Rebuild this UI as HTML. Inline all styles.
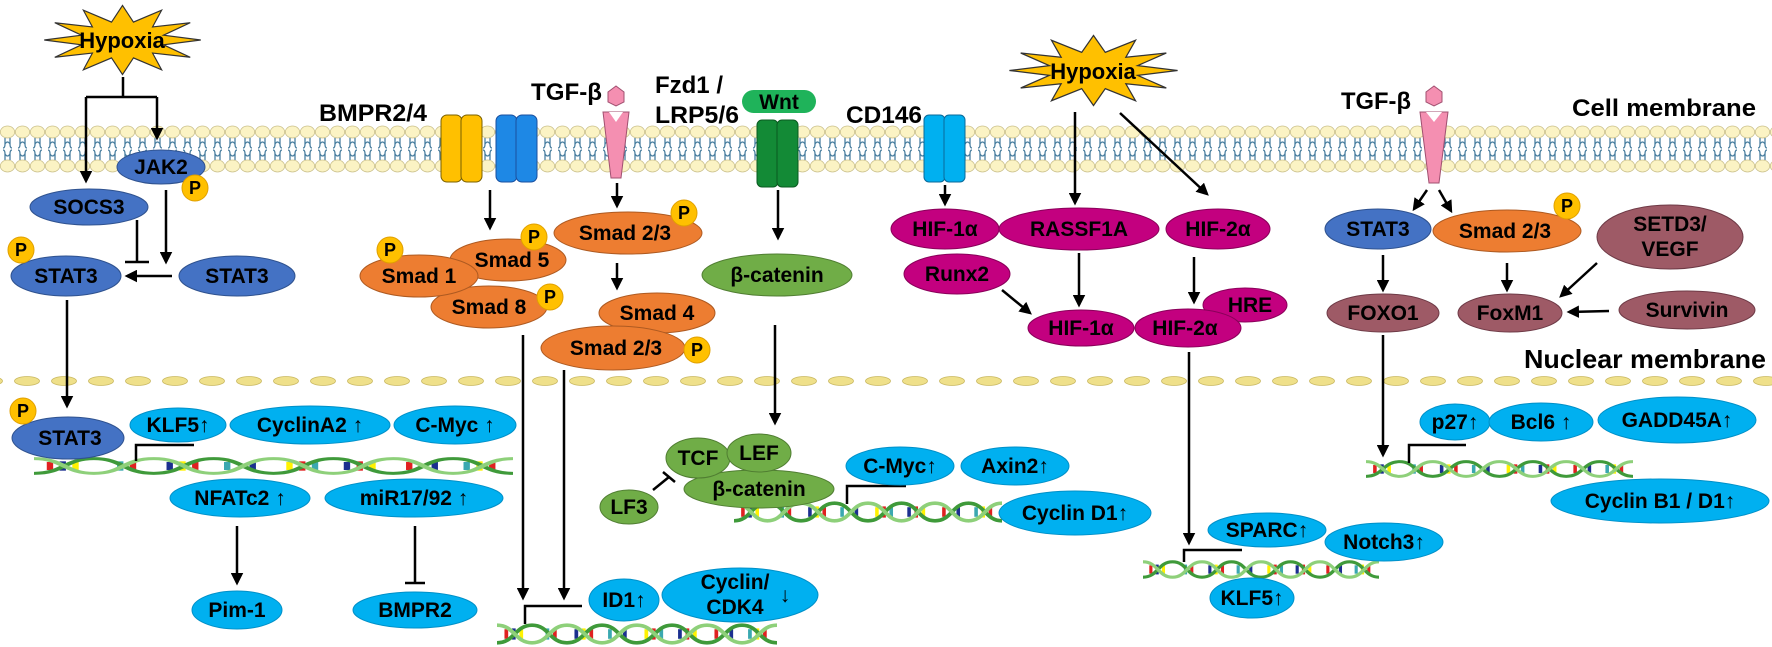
<!DOCTYPE html>
<html><head><meta charset="utf-8"><style>
html,body{margin:0;padding:0;background:#fff;}
svg{display:block;}
text{font-family:"Liberation Sans","DejaVu Sans",sans-serif;font-weight:bold;fill:#000;}
</style></head><body>
<svg width="1772" height="647" viewBox="0 0 1772 647" xmlns="http://www.w3.org/2000/svg">
<defs>
<marker id="ar" viewBox="0 0 10 10" refX="8" refY="5" markerWidth="5" markerHeight="5" orient="auto"><path d="M0,0 L10,5 L0,10 z" fill="#000"/></marker>
<pattern id="mem" x="0" y="125" width="15" height="48" patternUnits="userSpaceOnUse">
<path d="M5,13 v6 q0,4 -2,4 M10,13 v6 q0,4 2,4 M5,19 q2.5,-4 5,0 M5,35 v-6 q0,-4 -2,-4 M10,35 v-6 q0,-4 2,-4 M5,29 q2.5,4 5,0" stroke="#4a7fa0" stroke-width="1.3" fill="none"/>
<ellipse cx="7.5" cy="7" rx="7.2" ry="6" fill="#fbf3c4" stroke="#c9bf8a" stroke-width="0.8"/>
<ellipse cx="7.5" cy="41" rx="7.2" ry="6" fill="#fbf3c4" stroke="#c9bf8a" stroke-width="0.8"/>
</pattern>
<pattern id="nuc" x="14" y="370" width="37" height="22" patternUnits="userSpaceOnUse">
<ellipse cx="13" cy="11" rx="12.5" ry="4.5" fill="#efe08a" stroke="#c9b860" stroke-width="0.8"/>
</pattern>
<symbol id="star" viewBox="-72 -30 144 60" preserveAspectRatio="none" overflow="visible">
<polygon points="70,0 36.7,3.9 60.6,14 26.9,10.6 35,24.2 9.8,14.5 0,28 -9.8,14.5 -35,24.2 -26.9,10.6 -60.6,14 -36.7,3.9 -70,0 -36.7,-3.9 -60.6,-14 -26.9,-10.6 -35,-24.2 -9.8,-14.5 0,-28 9.8,-14.5 35,-24.2 26.9,-10.6 60.6,-14 36.7,-3.9" fill="#ffc000" stroke="#333" stroke-width="1"/>
</symbol>
<symbol id="dna" viewBox="0 0 300 30" preserveAspectRatio="none">
<g>
<rect x="8" y="9" width="4" height="12" fill="#e02020"/><rect x="16" y="8" width="4" height="14" fill="#1b2f8f"/><rect x="24" y="9" width="4" height="12" fill="#fff200"/><rect x="44" y="9" width="4" height="12" fill="#fff"/><rect x="52" y="8" width="4" height="14" fill="#3aa8b0"/><rect x="60" y="9" width="4" height="12" fill="#e02020"/>
<rect x="83" y="9" width="4" height="12" fill="#1b2f8f"/><rect x="91" y="8" width="4" height="14" fill="#fff200"/><rect x="99" y="9" width="4" height="12" fill="#e02020"/><rect x="119" y="9" width="4" height="12" fill="#3aa8b0"/><rect x="127" y="8" width="4" height="14" fill="#fff"/><rect x="135" y="9" width="4" height="12" fill="#1b2f8f"/>
<rect x="158" y="9" width="4" height="12" fill="#fff200"/><rect x="166" y="8" width="4" height="14" fill="#e02020"/><rect x="174" y="9" width="4" height="12" fill="#3aa8b0"/><rect x="194" y="9" width="4" height="12" fill="#1b2f8f"/><rect x="202" y="8" width="4" height="14" fill="#e02020"/><rect x="210" y="9" width="4" height="12" fill="#fff200"/>
<rect x="233" y="9" width="4" height="12" fill="#e02020"/><rect x="241" y="8" width="4" height="14" fill="#fff"/><rect x="249" y="9" width="4" height="12" fill="#1b2f8f"/><rect x="269" y="9" width="4" height="12" fill="#3aa8b0"/><rect x="277" y="8" width="4" height="14" fill="#fff200"/><rect x="285" y="9" width="4" height="12" fill="#e02020"/>
</g>
<path d="M0,26 C19,26 19,4 37.5,4 S56,26 75,26 S94,4 112.5,4 S131,26 150,26 S169,4 187.5,4 S206,26 225,26 S244,4 262.5,4 S281,26 300,26" fill="none" stroke="#3f9a3a" stroke-width="4.5"/>
<path d="M0,4 C19,4 19,26 37.5,26 S56,4 75,4 S94,26 112.5,26 S131,4 150,4 S169,26 187.5,26 S206,4 225,4 S244,26 262.5,26 S281,4 300,4" fill="none" stroke="#8ed07a" stroke-width="4.5"/>
</symbol>
</defs>

<!-- membranes -->
<rect x="0" y="125" width="1772" height="48" fill="url(#mem)"/>
<rect x="0" y="370" width="1772" height="22" fill="url(#nuc)"/>
<text x="1572" y="116" font-size="24" textLength="184" lengthAdjust="spacingAndGlyphs">Cell membrane</text>
<text x="1524" y="368" font-size="26" textLength="242" lengthAdjust="spacingAndGlyphs">Nuclear membrane</text>

<!-- receptors -->
<g stroke="#7a6000" stroke-width="1"><rect x="441" y="115" width="21" height="67" rx="6" fill="#ffc000"/><rect x="461" y="115" width="21" height="67" rx="6" fill="#ffc000"/></g>
<g stroke="#1a4f9f" stroke-width="1"><rect x="496" y="115" width="21" height="67" rx="6" fill="#1e88e5"/><rect x="516" y="115" width="21" height="67" rx="6" fill="#1e88e5"/></g>
<g stroke="#0a5a20" stroke-width="1"><rect x="757" y="120" width="21" height="67" rx="5" fill="#138a36"/><rect x="777" y="120" width="21" height="67" rx="5" fill="#138a36"/></g>
<g stroke="#0a6a9a" stroke-width="1"><rect x="924" y="115" width="21" height="67" rx="5" fill="#00b0f0"/><rect x="944" y="115" width="21" height="67" rx="5" fill="#00b0f0"/></g>
<g fill="#f48fb1" stroke="#a05070" stroke-width="1">
<polygon points="603,112 629,112 621,178 611,178"/>
<polygon points="608,92 616,86 624,92 624,102 616,106 608,102"/>
<polygon points="1420,112 1448,112 1439,183 1429,183"/>
<polygon points="1426,92 1434,86 1442,92 1442,102 1434,106 1426,102"/>
</g>
<polygon points="609,112 623,112 616,122" fill="#fff"/>
<polygon points="1426,112 1442,112 1434,122" fill="#fff"/>
<rect x="742" y="90" width="74" height="23" rx="11.5" fill="#1fb35a"/>
<text x="779" y="109" font-size="21" text-anchor="middle">Wnt</text>

<!-- labels -->
<g font-size="24">
<text x="319" y="121" textLength="108" lengthAdjust="spacingAndGlyphs">BMPR2/4</text>
<text x="531" y="100" textLength="71" lengthAdjust="spacingAndGlyphs">TGF-β</text>
<text x="655" y="93" textLength="68" lengthAdjust="spacingAndGlyphs">Fzd1 /</text>
<text x="655" y="123" textLength="84" lengthAdjust="spacingAndGlyphs">LRP5/6</text>
<text x="846" y="123" textLength="76" lengthAdjust="spacingAndGlyphs">CD146</text>
<text x="1341" y="109" textLength="70" lengthAdjust="spacingAndGlyphs">TGF-β</text>
</g>

<!-- stars -->
<use href="#star" x="42" y="3" width="161" height="74"/>
<text x="122" y="48" font-size="22" text-anchor="middle">Hypoxia</text>
<use href="#star" x="1007" y="33" width="173" height="75"/>
<text x="1093" y="79" font-size="22" text-anchor="middle">Hypoxia</text>

<!-- DNA -->
<use href="#dna" x="34" y="456" width="479" height="20"/>
<use href="#dna" x="497" y="622" width="280" height="24"/>
<use href="#dna" x="734" y="500" width="268" height="24"/>
<use href="#dna" x="1143" y="559" width="236" height="21"/>
<use href="#dna" x="1366" y="459" width="267" height="20"/>

<!-- connectors -->
<g stroke="#000" stroke-width="2.5" fill="none">
<path d="M123,77 V97 M86,97 H157"/>
<path d="M86,97 V181" marker-end="url(#ar)"/>
<path d="M157,97 V138" marker-end="url(#ar)"/>
<path d="M166,190 V262" marker-end="url(#ar)"/>
<path d="M172,276 H127" marker-end="url(#ar)"/>
<path d="M137,220 V262 M125,262 H149"/>
<path d="M67,300 V406" marker-end="url(#ar)"/>
<path d="M237,526 V583" marker-end="url(#ar)"/>
<path d="M415,526 V583 M405,583 H425"/>
<path d="M136,461 V445 H194"/>
<path d="M490,190 V228" marker-end="url(#ar)"/>
<path d="M617,183 V206" marker-end="url(#ar)"/>
<path d="M617,263 V288" marker-end="url(#ar)"/>
<path d="M523,335 V598" marker-end="url(#ar)"/>
<path d="M564,370 V598" marker-end="url(#ar)"/>
<path d="M525,624 V606 H582"/>
<path d="M778,190 V238" marker-end="url(#ar)"/>
<path d="M775,325 V423" marker-end="url(#ar)"/>
<path d="M653,490 L669,477 M663,472 L675,482"/>
<path d="M847,504 V486 H906"/>
<path d="M945,185 V204" marker-end="url(#ar)"/>
<path d="M1075,112 V203" marker-end="url(#ar)"/>
<path d="M1120,113 L1207,194" marker-end="url(#ar)"/>
<path d="M1079,253 V305" marker-end="url(#ar)"/>
<path d="M1002,290 L1030,313" marker-end="url(#ar)"/>
<path d="M1194,257 V302" marker-end="url(#ar)"/>
<path d="M1189,352 V543" marker-end="url(#ar)"/>
<path d="M1184,562 V550 H1242"/>
<path d="M1427,190 L1414,209" marker-end="url(#ar)"/>
<path d="M1439,190 L1451,211" marker-end="url(#ar)"/>
<path d="M1383,255 V290" marker-end="url(#ar)"/>
<path d="M1507,263 V290" marker-end="url(#ar)"/>
<path d="M1597,263 L1561,296" marker-end="url(#ar)"/>
<path d="M1609,311 L1569,312" marker-end="url(#ar)"/>
<path d="M1383,335 V455" marker-end="url(#ar)"/>
<path d="M1409,463 V445 H1466"/>
</g>

<!-- nodes -->
<g stroke-width="1">
<g fill="#4472c4" stroke="#2f528f">
<ellipse cx="161" cy="167" rx="44" ry="17"/>
<ellipse cx="89" cy="207" rx="59" ry="18"/>
<ellipse cx="66" cy="276" rx="55" ry="20"/>
<ellipse cx="237" cy="276" rx="58" ry="20"/>
<ellipse cx="68" cy="438" rx="56" ry="21"/>
<ellipse cx="1378" cy="229" rx="53" ry="20"/>
</g>
<g fill="#ed7d31" stroke="#ae5a21">
<ellipse cx="508" cy="260" rx="58" ry="21"/>
<ellipse cx="489" cy="307" rx="58" ry="21"/>
<ellipse cx="419" cy="276" rx="59" ry="21"/>
<ellipse cx="628" cy="233" rx="74" ry="21"/>
<ellipse cx="657" cy="313" rx="58" ry="20"/>
<ellipse cx="613" cy="348" rx="72" ry="22"/>
<ellipse cx="1507" cy="231" rx="74" ry="21"/>
</g>
<g fill="#00b0f0" stroke="#0090c8">
<ellipse cx="178" cy="425" rx="48" ry="17"/>
<ellipse cx="310" cy="425" rx="80" ry="19"/>
<ellipse cx="455" cy="425" rx="61" ry="19"/>
<ellipse cx="240" cy="498" rx="70" ry="19"/>
<ellipse cx="414" cy="498" rx="89" ry="19"/>
<ellipse cx="237" cy="610" rx="45" ry="19"/>
<ellipse cx="415" cy="610" rx="62" ry="18"/>
<ellipse cx="624" cy="600" rx="35" ry="21"/>
<ellipse cx="740" cy="595" rx="78" ry="27"/>
<ellipse cx="900" cy="466" rx="54" ry="19"/>
<ellipse cx="1015" cy="466" rx="54" ry="19"/>
<ellipse cx="1075" cy="513" rx="76" ry="22"/>
<ellipse cx="1267" cy="530" rx="59" ry="17"/>
<ellipse cx="1384" cy="542" rx="59" ry="19"/>
<ellipse cx="1252" cy="598" rx="42" ry="20"/>
<ellipse cx="1455" cy="422" rx="35" ry="18"/>
<ellipse cx="1541" cy="422" rx="52" ry="19"/>
<ellipse cx="1677" cy="420" rx="79" ry="23"/>
<ellipse cx="1660" cy="501" rx="109" ry="22"/>
</g>
<g fill="#70ad47" stroke="#507e32">
<ellipse cx="777" cy="275" rx="75" ry="21"/>
<ellipse cx="629" cy="507" rx="29" ry="17"/>
<ellipse cx="759" cy="489" rx="75" ry="19"/>
<ellipse cx="698" cy="458" rx="32" ry="20"/>
<ellipse cx="759" cy="453" rx="32" ry="19"/>
</g>
<g fill="#c3007f" stroke="#8a005a">
<ellipse cx="945" cy="229" rx="54" ry="20"/>
<ellipse cx="1079" cy="229" rx="80" ry="21"/>
<ellipse cx="1218" cy="229" rx="52" ry="20"/>
<ellipse cx="957" cy="274" rx="53" ry="20"/>
<ellipse cx="1081" cy="328" rx="53" ry="18"/>
<ellipse cx="1245" cy="305" rx="42" ry="17"/>
<ellipse cx="1188" cy="328" rx="53" ry="19"/>
</g>
<g fill="#9e5a66" stroke="#6e3a46">
<ellipse cx="1383" cy="313" rx="56" ry="19"/>
<ellipse cx="1510" cy="313" rx="52" ry="19"/>
<ellipse cx="1670" cy="237" rx="73" ry="32"/>
<ellipse cx="1687" cy="310" rx="68" ry="19"/>
</g>
<g fill="#ffc000" stroke="#e0a000">
<circle cx="195" cy="188" r="13"/>
<circle cx="21" cy="250" r="13"/>
<circle cx="23" cy="411" r="13"/>
<circle cx="390" cy="250" r="13"/>
<circle cx="534" cy="237" r="13"/>
<circle cx="550" cy="297" r="13"/>
<circle cx="684" cy="213" r="13"/>
<circle cx="697" cy="350" r="13"/>
<circle cx="1567" cy="206" r="13"/>
</g>
</g>

<!-- node texts -->
<g font-size="21" text-anchor="middle">
<text x="161" y="174">JAK2</text>
<text x="89" y="214">SOCS3</text>
<text x="66" y="283">STAT3</text>
<text x="237" y="283">STAT3</text>
<text x="70" y="445">STAT3</text>
<text x="1378" y="236">STAT3</text>
<text x="512" y="267">Smad 5</text>
<text x="419" y="283">Smad 1</text>
<text x="489" y="314">Smad 8</text>
<text x="625" y="240">Smad 2/3</text>
<text x="657" y="320">Smad 4</text>
<text x="616" y="355">Smad 2/3</text>
<text x="1505" y="238">Smad 2/3</text>
<text x="178" y="432">KLF5↑</text>
<text x="310" y="432">CyclinA2 ↑</text>
<text x="455" y="432">C-Myc ↑</text>
<text x="240" y="505">NFATc2 ↑</text>
<text x="414" y="505">miR17/92 ↑</text>
<text x="237" y="617">Pim-1</text>
<text x="415" y="617">BMPR2</text>
<text x="624" y="607">ID1↑</text>
<text x="735" y="589">Cyclin/</text>
<text x="735" y="614">CDK4</text>
<text x="785" y="602">↓</text>
<text x="777" y="282">β-catenin</text>
<text x="629" y="514">LF3</text>
<text x="759" y="496">β-catenin</text>
<text x="698" y="465">TCF</text>
<text x="759" y="460">LEF</text>
<text x="900" y="473">C-Myc↑</text>
<text x="1015" y="473">Axin2↑</text>
<text x="1075" y="520">Cyclin D1↑</text>
<text x="945" y="236">HIF-1α</text>
<text x="1079" y="236">RASSF1A</text>
<text x="1218" y="236">HIF-2α</text>
<text x="957" y="281">Runx2</text>
<text x="1081" y="335">HIF-1α</text>
<text x="1250" y="312">HRE</text>
<text x="1185" y="335">HIF-2α</text>
<text x="1267" y="537">SPARC↑</text>
<text x="1384" y="549">Notch3↑</text>
<text x="1252" y="605">KLF5↑</text>
<text x="1383" y="320">FOXO1</text>
<text x="1510" y="320">FoxM1</text>
<text x="1670" y="231">SETD3/</text>
<text x="1670" y="256">VEGF</text>
<text x="1687" y="317">Survivin</text>
<text x="1455" y="429">p27↑</text>
<text x="1541" y="429">Bcl6 ↑</text>
<text x="1677" y="427">GADD45A↑</text>
<text x="1660" y="508">Cyclin B1 / D1↑</text>
</g>
<g font-size="18" text-anchor="middle">
<text x="195" y="194">P</text><text x="21" y="256">P</text><text x="23" y="417">P</text>
<text x="390" y="256">P</text><text x="534" y="243">P</text><text x="550" y="303">P</text>
<text x="684" y="219">P</text><text x="697" y="356">P</text><text x="1567" y="212">P</text>
</g>
</svg>
</body></html>
